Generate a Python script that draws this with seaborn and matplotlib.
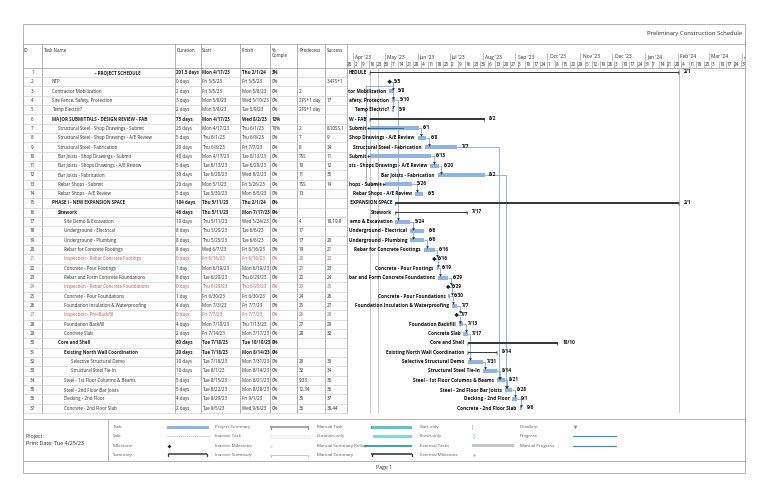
import matplotlib
matplotlib.use("Agg")
import matplotlib.pyplot as plt
import matplotlib.dates as mdates
import seaborn as sns
import pandas as pd
import numpy as np

sns.set_theme(style="white")
plt.rcParams['font.family'] = ['Open Sans', 'DejaVu Sans']

# ---------------- data ----------------
ids = list(range(1, 38))
names = ["- PROJECT SCHEDULE", "NTP", "Contractor Mobilization", "Site Fence, Safety, Protection",
         "Temp Electric?", "MAJOR SUBMITTALS - DESIGN REVIEW - FAB",
         "Structural Steel - Shop Drawings - Submit", "Structural Steel - Shop Drawings - A/E Review",
         "Structural Steel - Fabrication", "Bar Joists - Shop Drawings - Submit",
         "Bar Joists - Shops Drawings - A/E Review", "Bar Joists - Fabrication",
         "Rebar Shops - Submit", "Rebar Shops - A/E Review", "PHASE I - NEW EXPANSION SPACE",
         "Sitework", "Site Demo & Excavation", "Underground - Electrical", "Underground - Plumbing",
         "Rebar for Concrete Footings", "Inspection - Rebar Concrete Footings", "Concrete - Pour Footings",
         "Rebar and Form Concrete Foundations", "Inspection - Rebar Concrete Foundations",
         "Concrete - Pour Foundations", "Foundation Insulation & Waterproofing",
         "Inspection - Pre-Backfill", "Foundation Backfill", "Concrete Slab", "Core and Shell",
         "Existing North Wall Coordination", "Selective Structural Demo", "Structural Steel Tie-In",
         "Steel - 1st Floor Columns & Beams", "Steel - 2nd Floor Bar Joists", "Decking - 2nd Floor",
         "Concrete - 2nd Floor Slab"]
levels = [0, 1, 1, 1, 1, 1, 2, 2, 2, 2, 2, 2, 2, 2, 1, 2, 3, 3, 3, 3, 3, 3, 3, 3, 3, 3, 3, 3, 3,
          2, 3, 4, 4, 3, 3, 3, 3]
kinds = ["S", "M", "T", "T", "T", "S", "T", "T", "T", "T", "T", "T", "T", "T", "S", "S", "T", "T",
         "T", "T", "M", "T", "T", "M", "T", "T", "M", "T", "T", "S", "S", "T", "T", "T", "T", "T", "T"]
durations = ["201.5 days", "0 days", "2 days", "3 days", "2 days", "75 days", "25 days", "5 days",
             "20 days", "40 days", "5 days", "30 days", "20 days", "5 days", "184 days", "46 days",
             "10 days", "8 days", "8 days", "8 days", "0 days", "1 day", "8 days", "0 days", "1 day",
             "4 days", "0 days", "4 days", "2 days", "60 days", "20 days", "10 days", "10 days",
             "5 days", "5 days", "4 days", "2 days"]
starts = ["Mon 4/17/23", "Fri 5/5/23", "Fri 5/5/23", "Mon 5/8/23", "Mon 5/8/23", "Mon 4/17/23",
          "Mon 4/17/23", "Thu 6/1/23", "Thu 6/8/23", "Mon 4/17/23", "Tue 6/13/23", "Tue 6/20/23",
          "Mon 5/1/23", "Tue 5/30/23", "Thu 5/11/23", "Thu 5/11/23", "Thu 5/11/23", "Thu 5/25/23",
          "Thu 5/25/23", "Wed 6/7/23", "Fri 6/16/23", "Mon 6/19/23", "Tue 6/20/23", "Thu 6/29/23",
          "Fri 6/30/23", "Mon 7/3/23", "Fri 7/7/23", "Mon 7/10/23", "Fri 7/14/23", "Tue 7/18/23",
          "Tue 7/18/23", "Tue 7/18/23", "Tue 8/1/23", "Tue 8/15/23", "Tue 8/22/23", "Tue 8/29/23",
          "Tue 9/5/23"]
finishes = ["Thu 2/1/24", "Fri 5/5/23", "Mon 5/8/23", "Wed 5/10/23", "Tue 5/9/23", "Wed 8/2/23",
            "Thu 6/1/23", "Thu 6/8/23", "Fri 7/7/23", "Tue 6/13/23", "Tue 6/20/23", "Wed 8/2/23",
            "Fri 5/26/23", "Mon 6/5/23", "Thu 2/1/24", "Mon 7/17/23", "Wed 5/24/23", "Tue 6/6/23",
            "Tue 6/6/23", "Fri 6/16/23", "Fri 6/16/23", "Mon 6/19/23", "Thu 6/29/23", "Thu 6/29/23",
            "Fri 6/30/23", "Fri 7/7/23", "Fri 7/7/23", "Thu 7/13/23", "Mon 7/17/23", "Tue 10/10/23",
            "Mon 8/14/23", "Mon 7/31/23", "Mon 8/14/23", "Mon 8/21/23", "Mon 8/28/23", "Fri 9/1/23",
            "Wed 9/6/23"]
pct = ["3%", "0%", "0%", "0%", "0%", "12%", "70%"] + ["0%"] * 30
preds = ["", "", "2", "2FS+1 day", "2FS+1 day", "", "2", "7", "8", "7SS", "10", "11", "7SS", "13",
         "", "", "4", "17", "17", "19", "20", "21", "22", "23", "24", "25", "26", "27", "28", "", "",
         "29", "32", "9,33", "12,34", "35", "36"]
succs = ["", "3,4FS+1", "", "17", "", "", "8,10SS,1", "9", "34", "11", "12", "35", "14", "", "", "",
         "18,19,8", "", "20", "21", "22", "23", "24", "25", "26", "27", "28", "29", "32", "", "", "33",
         "34", "35", "36", "37", "38,44"]
red_rows = [21, 24, 27]
progress_frac = [0.03, 0, 0, 0, 0, 0.12, 0.70] + [0] * 30

fs_links = [(2, 3), (2, 4), (2, 5), (7, 8), (8, 9), (9, 34), (10, 11), (11, 12), (12, 35), (13, 14),
            (4, 17), (17, 18), (17, 19), (19, 20), (20, 21), (21, 22), (22, 23), (23, 24), (24, 25),
            (25, 26), (26, 27), (27, 28), (28, 29), (29, 32), (32, 33), (33, 34), (34, 35), (35, 36),
            (36, 37)]
ss_links = [(7, 10), (7, 13)]
back_links = [(2, 7)]

legend_cols = [["Task", "Split", "Milestone", "Summary"],
               ["Project Summary", "Inactive Task", "Inactive Milestone", "Inactive Summary"],
               ["Manual Task", "Duration-only", "Manual Summary Rollup", "Manual Summary"],
               ["Start-only", "Finish-only", "External Tasks", "External Milestone"],
               ["Deadline", "Progress", "Manual Progress"]]

title_text = "Preliminary Construction Schedule"
project_text = "Project:\nPrint Date: Tue 4/25/23"
status_date = "2023-04-25"

# ---------------- frame ----------------
W, H = 768, 497
fig = plt.figure(figsize=(W / 100, H / 100), dpi=100)
ax = fig.add_axes([0, 0, 1, 1])
ax.set_xlim(0, W)
ax.set_ylim(H, 0)
ax.axis('off')

FL, FR = 22.7, 745.0
TOP, HDR_T, HDR_B = 24.0, 44.0, 67.7
ROW_H = 9.33
NR = len(ids)
TBL_B = HDR_B + NR * ROW_H
LEG_T, LEG_B, PAGE_B = 419.0, 461.0, 473.0
GL = 347.0
col_lines = [FL, 42, 175, 200.5, 239.5, 269.5, 297, 324.5, GL]

FS = 3.25
txt_c = "#262626"
grid_c = "#D0D0D0"
line_c = "#A6A6A6"
bar_c = "#8DB4E2"
link_c = "#7FA8DC"

def hline(y, x0, x1, c=line_c, lw=0.6):
    ax.plot([x0, x1], [y, y], color=c, lw=lw, solid_capstyle='butt')

def vline(x, y0, y1, c=line_c, lw=0.6):
    ax.plot([x, x], [y0, y1], color=c, lw=lw, solid_capstyle='butt')

# outer frame
hline(TOP, FL, FR)
hline(HDR_T, FL, FR)
hline(HDR_B, FL, FR)
vline(FL, TOP, PAGE_B)
vline(FR, TOP, PAGE_B)
hline(LEG_T, FL, FR)
hline(LEG_B, FL, FR)
hline(PAGE_B, FL, FR)
vline(108, LEG_T, LEG_B)
ax.text(FR - 3, (TOP + HDR_T) / 2, title_text, fontsize=4.2, color=txt_c, ha='right', va='center')

# table grid
for x in col_lines:
    vline(x, HDR_T, TBL_B)
for i in range(1, NR + 1):
    hline(HDR_B + i * ROW_H, FL, GL, c=grid_c, lw=0.5)

# header
hdr_y = 50.5
for x, t in [(24, "ID"), (43.5, "Task Name"), (176.5, "Duration"), (202, "Start"), (241.5, "Finish"),
             (271.5, "%"), (299, "Predecess"), (326.5, "Success")]:
    ax.text(x, hdr_y, t, fontsize=FS, color=txt_c, ha='left', va='center')
ax.text(271.5, 56, "Comple", fontsize=FS, color=txt_c, ha='left', va='center')

indent_x = {0: 95, 1: 52, 2: 58, 3: 64.5, 4: 71}
for i in range(NR):
    y = HDR_B + (i + 0.5) * ROW_H
    r = ids[i]
    c = "#C0504D" if r in red_rows else txt_c
    b = 'bold' if kinds[i] == "S" else 'normal'
    ax.text(32.5, y, str(r), fontsize=FS, color=c, ha='center', va='center')
    ax.text(indent_x[levels[i]], y, names[i], fontsize=FS, color=c, ha='left', va='center', fontweight=b)
    ax.text(176.5, y, durations[i], fontsize=FS, color=c, ha='left', va='center', fontweight=b)
    ax.text(202, y, starts[i], fontsize=FS, color=c, ha='left', va='center', fontweight=b)
    ax.text(241.5, y, finishes[i], fontsize=FS, color=c, ha='left', va='center', fontweight=b)
    ax.text(271.5, y, pct[i], fontsize=FS, color=c, ha='left', va='center', fontweight=b)
    ax.text(299, y, preds[i], fontsize=FS, color=c, ha='left', va='center')
    ax.text(326.5, y, succs[i], fontsize=FS, color=c, ha='left', va='center')

# ---------------- gantt ----------------
def to_date(s):
    return pd.to_datetime(s.split()[1], format="%m/%d/%y")

df = pd.DataFrame({"row": ids, "kind": kinds, "name": names,
                   "start": [to_date(s) for s in starts], "finish": [to_date(s) for s in finishes],
                   "prog": progress_frac})
df["s"] = mdates.date2num(df["start"])
df["e"] = mdates.date2num(df["finish"]) + 1.0
df.loc[df.kind == "M", "s"] = df.loc[df.kind == "M", "e"] - 0.3
df.loc[df.kind == "M", "e"] = df.loc[df.kind == "M", "s"]

PX_DAY = 1.064
DPP = 1 / PX_DAY
ref = mdates.date2num(pd.Timestamp("2023-04-01"))
x0 = ref - (352.7 - GL) * DPP
x1 = ref + (FR - 352.7) * DPP

ax_g = fig.add_axes([GL / W, 1 - TBL_B / H, (FR - GL) / W, (TBL_B - HDR_B) / H])
ax_h = fig.add_axes([GL / W, 1 - HDR_B / H, (FR - GL) / W, (HDR_B - HDR_T) / H])
ax_h.set_xlim(x0, x1)
ax_h.set_ylim(HDR_B, HDR_T)
ax_h.axis('off')
ax_h.patch.set_visible(False)

# timescale
months = pd.date_range("2023-04-01", "2024-04-01", freq="MS")
for m in months:
    xm = mdates.date2num(m)
    ax_h.plot([xm, xm], [53, 60.5], color=line_c, lw=0.5)
    ax_h.text(xm + 2.2 * DPP, 57, m.strftime("%b '%y"), fontsize=3.5, color=txt_c, ha='left',
              va='center', clip_on=True)
weeks = pd.date_range("2023-03-26", "2024-03-31", freq="W-SUN")
for w in weeks:
    xw = mdates.date2num(w)
    ax_h.plot([xw, xw], [61, HDR_B], color=line_c, lw=0.5)
    ax_h.text(xw + 0.6 * DPP, 64.3, str(w.day), fontsize=3.3, color=txt_c, ha='left', va='center',
              clip_on=True)

BH = 0.43
tasks = df[df.kind == "T"]
ax_g.barh(tasks.row, tasks.e - tasks.s, left=tasks.s, height=BH, color=bar_c, edgecolor='none', zorder=3)
prog = tasks[tasks.prog > 0]
ax_g.barh(prog.row, (prog.e - prog.s) * prog.prog, left=prog.s, height=0.12, color="#2F6FB5",
          edgecolor='none', zorder=4)

summ = df[df.kind == "S"]
ax_g.barh(summ.row, summ.e - summ.s, left=summ.s, height=0.16, color="#3A3A3A", edgecolor='none', zorder=3)
for _, rr in summ.iterrows():
    for xx, sgn in [(rr.s, 1), (rr.e, -1)]:
        ax_g.fill([xx, xx + sgn * 1.6 * DPP, xx], [rr.row - 0.08, rr.row - 0.08, rr.row + 0.38],
                  color="#3A3A3A", lw=0, zorder=3)

miles = df[df.kind == "M"]
sns.scatterplot(x=miles.s, y=miles.row, marker='D', s=5, color="#1A1A1A", edgecolor='none', ax=ax_g,
                zorder=5, legend=False)
ax_g.set_xlim(x0, x1)
ax_g.set_ylim(NR + 0.5, 0.5)
ax_g.axis('off')
ax_g.patch.set_visible(False)

# reference lines (project start, status date, project finish)
for d in [df.s[0], mdates.date2num(pd.Timestamp(status_date)), df.e[0]]:
    ax_g.axvline(d, color="#C8C8C8", lw=0.7, zorder=0)

# links
rowv = df.set_index("row")
arrow_c = "#1F3050"
for p, s in fs_links:
    xe = rowv.e[p] + (0.8 * DPP if rowv.kind[p] == "M" else 0)
    xs = rowv.s[s]
    xt = max(xs + 1.3 * DPP, xe + 2.6 * DPP)
    yend = s - (BH / 2 + 0.05)
    ax_g.plot([xe, xt, xt], [p, p, yend], color=link_c, lw=0.6, zorder=2)
    ax_g.plot(xt, yend, marker='v', ms=2.0, color=arrow_c, mec='none', zorder=6)
for p, s in ss_links:
    xl = rowv.s[p] - 4 * DPP
    ax_g.plot([rowv.s[p], xl, xl, rowv.s[s]], [p, p, s, s], color=link_c, lw=0.6, zorder=2)
    ax_g.plot(rowv.s[s] - 0.6 * DPP, s, marker='>', ms=2.0, color=arrow_c, mec='none', zorder=6)
for p, s in back_links:
    xe = rowv.e[p] + 0.8 * DPP
    xr = xe + 2.5 * DPP
    xl = rowv.s[s] - 4 * DPP
    ax_g.plot([xe, xr, xr, xl, xl, rowv.s[s]], [p, p, p + 0.5, p + 0.5, s, s], color=link_c, lw=0.6,
              zorder=2)
    ax_g.plot(rowv.s[s] - 0.6 * DPP, s, marker='>', ms=2.0, color=arrow_c, mec='none', zorder=6)

# labels (left labels are cut where they meet the left edge of the chart area)
left_labels = []
for _, rr in df.iterrows():
    if rr.kind != "M":
        t = ax_g.text(rr.s - 3 * DPP, rr.row, rr["name"], fontsize=3.4, fontweight='bold',
                      color="#111111", ha='right', va='center', clip_on=True, zorder=7)
        left_labels.append(t)
    lab = f"{rr.finish.month}/{rr.finish.day}"
    xoff = 4.5 if rr.kind != "M" else 4.0
    ax_g.text(rr.e + xoff * DPP, rr.row - 0.05, lab, fontsize=3.4, fontweight='bold', color="#111111",
              ha='left', va='center', clip_on=True, zorder=7)

fig.canvas.draw()
renderer = fig.canvas.get_renderer()
edge_px = GL + 0.5
for t in left_labels:
    s = t.get_text()
    while s and t.get_window_extent(renderer).x0 < edge_px:
        s = s[1:]
        t.set_text(s)

# ---------------- legend ----------------
ax.text(25.5, 440, project_text, fontsize=3.9, color=txt_c, ha='left', va='center', linespacing=1.3)
leg_x = [113, 215, 317, 420, 520]
leg_y = [427, 436.3, 445.6, 455]
lab_c = "#595959"
for cx, col in zip(leg_x, legend_cols):
    for yy, t in zip(leg_y, col):
        ax.text(cx, yy, t, fontsize=3.2, color=lab_c, ha='left', va='center')

def bracket(x0_, x1_, y, c, lw=1.1):
    ax.plot([x0_, x1_], [y, y], color=c, lw=lw, solid_capstyle='butt')
    ax.plot([x0_ + 0.5, x0_ + 0.5], [y, y + 2.2], color=c, lw=0.9)
    ax.plot([x1_ - 0.5, x1_ - 0.5], [y, y + 2.2], color=c, lw=0.9)

ax.add_patch(plt.Rectangle((167, 425.5), 42, 3, color=bar_c, lw=0))
ax.plot([167, 209], [436.3, 436.3], color="#8DB4E2", lw=0.7, ls=(0, (1, 1)))
ax.plot(168.5, 445.6, marker='D', ms=2.0, color="#1A1A1A", mec='none')
bracket(167.5, 207, 454, "#3A3A3A")
bracket(270, 308.5, 426.5, "#8C8C8C")
ax.add_patch(plt.Rectangle((270, 435), 40, 3, facecolor="#F7F7F7", edgecolor="#E3E3E3", lw=0.4))
ax.plot(271, 445.6, marker='D', ms=1.6, color="#E0E0E0", mec='none')
bracket(270, 308.5, 454.5, "#C8C8C8", lw=0.7)
ax.add_patch(plt.Rectangle((371, 425.5), 41, 3, color="#5CC6C8", lw=0))
ax.add_patch(plt.Rectangle((371, 425.5), 1.0, 3, color="#2E9EA3", lw=0))
ax.add_patch(plt.Rectangle((373, 434.8), 39, 3, color="#86D4D6", lw=0))
ax.add_patch(plt.Rectangle((364, 444.8), 48, 1.8, color="#3CA9AD", lw=0))
bracket(371, 412, 454, "#2A2A2A")
ax.text(472, 427, "[", fontsize=3.8, color="#4A9AC4", ha='left', va='center')
ax.text(472.5, 436.3, "]", fontsize=3.8, color="#4A9AC4", ha='left', va='center')
ax.add_patch(plt.Rectangle((472, 444.3), 42, 2.8, color="#C4C4C4", lw=0))
ax.plot(473.5, 455, marker='D', ms=1.6, color="#BFBFBF", mec='none')
ax.plot(575, 426.5, marker='v', ms=2.6, color="#6BAE3D", mec='none')
ax.plot([573, 616], [436.3, 436.3], color="#3C98B8", lw=0.9)
ax.plot([573, 616], [445.6, 445.6], color="#3C98B8", lw=0.9)

ax.text((FL + FR) / 2, 467, "Page 1", fontsize=3.8, color=txt_c, ha='center', va='center')

fig.savefig("out.png", dpi=100)
